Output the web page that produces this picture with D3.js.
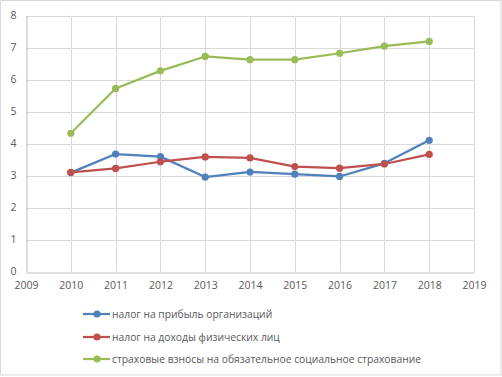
<!DOCTYPE html>
<html>
<head>
<meta charset="utf-8">
<script src="https://cdn.jsdelivr.net/npm/d3@7"></script>
<style>
  body { margin: 0; background: #fff; }
  svg { display: block; font-family: "Open Sans", "Noto Sans", sans-serif; }
</style>
</head>
<body>
<div id="chart"></div>
<script>
// Data
const years = [2010, 2011, 2012, 2013, 2014, 2015, 2016, 2017, 2018];
const profitTax = [3.09, 3.67, 3.59, 2.95, 3.11, 3.04, 2.97, 3.38, 4.10];
const incomeTax = [3.10, 3.22, 3.43, 3.58, 3.55, 3.28, 3.23, 3.36, 3.66];
const insurance = [4.32, 5.72, 6.27, 6.72, 6.62, 6.62, 6.82, 7.04, 7.19];
const seriesNames = [
  "налог на прибыль организаций",
  "налог на доходы физических лиц",
  "страховые взносы на обязательное социальное страхование"
];
const xTicks = [2009, 2010, 2011, 2012, 2013, 2014, 2015, 2016, 2017, 2018, 2019];
const yTicks = [0, 1, 2, 3, 4, 5, 6, 7, 8];

const series = [
  { name: seriesNames[0], values: profitTax, color: "#4f81bd" },
  { name: seriesNames[1], values: incomeTax, color: "#c0504d" },
  { name: seriesNames[2], values: insurance, color: "#9bbb59" }
];

const W = 502, H = 377;
const svg = d3.select("#chart").append("svg")
  .attr("width", W).attr("height", H);

// Outer border
svg.append("rect")
  .attr("x", 0.5).attr("y", 0.5)
  .attr("width", W - 1.5).attr("height", H - 2.5)
  .attr("fill", "#fff").attr("stroke", "#d9d9d9");

// Scales
const x = d3.scaleLinear().domain([2009, 2019]).range([26, 474]);
const y = d3.scaleLinear().domain([0, 8]).range([271.5, 15.5]);

// Gridlines
svg.append("g").selectAll("line")
  .data(yTicks.slice(1))
  .join("line")
  .attr("x1", x(2009)).attr("x2", x(2019))
  .attr("y1", d => Math.round(y(d)) + 0.5).attr("y2", d => Math.round(y(d)) + 0.5)
  .attr("stroke", "#d9d9d9");

svg.append("g").selectAll("line")
  .data(xTicks.slice(1))
  .join("line")
  .attr("x1", d => Math.round(x(d)) + 0.5).attr("x2", d => Math.round(x(d)) + 0.5)
  .attr("y1", y(0)).attr("y2", y(8))
  .attr("stroke", "#d9d9d9");

// Axes
const xAxis = svg.append("g")
  .attr("transform", `translate(0,${Math.round(y(0)) + 0.5})`)
  .call(d3.axisBottom(x).tickValues(xTicks).tickFormat(d3.format("d")).tickSize(0).tickPadding(9));
const yAxis = svg.append("g")
  .attr("transform", `translate(${Math.round(x(2009)) + 0.5},0)`)
  .call(d3.axisLeft(y).tickValues(yTicks).tickSize(0).tickPadding(10));

[xAxis, yAxis].forEach(a => {
  a.select(".domain").attr("stroke", "#bfbfbf");
  a.selectAll("text")
    .attr("fill", "#595959")
    .style("font-size", "10.5px")
    .style("font-family", "'Open Sans', 'Noto Sans', sans-serif");
});

// Lines and markers
const line = d3.line()
  .x((d, i) => x(years[i]))
  .y(d => y(d));

series.forEach(s => {
  svg.append("path")
    .datum(s.values)
    .attr("fill", "none")
    .attr("stroke", s.color)
    .attr("stroke-width", 2.25)
    .attr("stroke-linejoin", "round")
    .attr("d", line);

  svg.append("g").selectAll("circle")
    .data(s.values)
    .join("circle")
    .attr("cx", (d, i) => x(years[i]))
    .attr("cy", d => y(d))
    .attr("r", 3.6)
    .attr("fill", s.color);
});

// Legend
const legend = svg.append("g");
const legendY = [314, 337, 359];
series.forEach((s, i) => {
  const g = legend.append("g").attr("transform", `translate(83,${legendY[i]})`);
  g.append("line")
    .attr("x1", 0).attr("x2", 27)
    .attr("stroke", s.color).attr("stroke-width", 2.25);
  g.append("circle")
    .attr("cx", 14).attr("r", 3.6).attr("fill", s.color);
  g.append("text")
    .attr("x", 29).attr("dy", "0.35em")
    .attr("fill", "#595959")
    .style("font-size", "10.3px")
    .text(s.name);
});
</script>
</body>
</html>
